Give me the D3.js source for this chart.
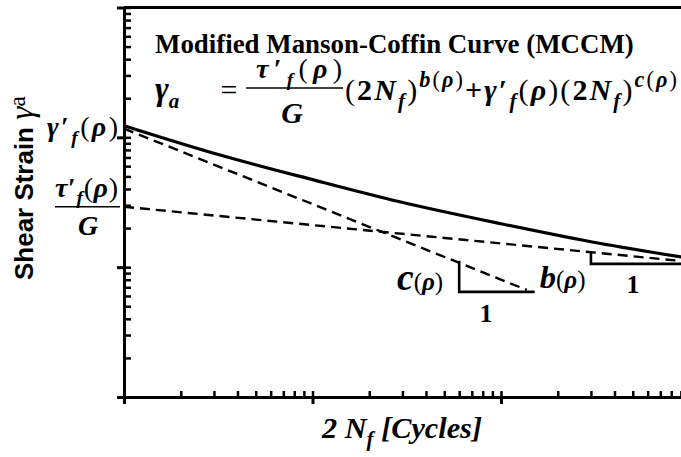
<!DOCTYPE html>
<html>
<head>
<meta charset="utf-8">
<script src="https://cdn.jsdelivr.net/npm/d3@7"></script>
<style>
  html, body { margin: 0; padding: 0; background: #fff; }
  svg { display: block; }
</style>
</head>
<body>
<svg id="chart" width="681" height="457"></svg>
<script>
// Log-log domains of the strain-life plot (decade ticks, no tick labels)
const cycleDomain = [1, 1000];
const strainDomain = [0.001, 1];

// Total strain-life curve, sampled points (2Nf, γa)
const totalCycles = [1, 3.2, 10, 29, 100, 300, 1000];
const totalStrain = [0.123, 0.0734, 0.0472, 0.0319, 0.0216, 0.0157, 0.0117];

// Elastic part τ'f/G·(2Nf)^b and plastic part γ'f·(2Nf)^c, end points
const elasticCycles = [1, 1000];
const elasticStrain = [0.0292, 0.0110];
const plasticCycles = [1, 137];
const plasticStrain = [0.1167, 0.00668];

// Slope triangles: [left cycles, right cycles, upper strain, lower strain]
const slopeC = [60, 151, 0.0112, 0.00645];
const slopeB = [300, 1000, 0.0131, 0.0106];

const SERIF = "'Liberation Serif', 'Times New Roman', 'DejaVu Serif', serif";
const SANS = "'Liberation Sans', Arial, sans-serif";

const svg = d3.select("#chart");
const x = d3.scaleLog().domain(cycleDomain).range([124, 689.5]);
const y = d3.scaleLog().domain(strainDomain).range([397, 7.5]);

const isDecade = v => Math.abs(Math.log10(v) - Math.round(Math.log10(v))) < 1e-9;

// ---- axes -------------------------------------------------------------
function styleAxis(g, w) {
  g.select(".domain").attr("stroke", "#000").attr("stroke-width", 3);
  g.selectAll(".tick line").attr("stroke", "#000").attr("stroke-width", w);
}

// inner ticks on every log step, outer ticks on decades
svg.append("g").attr("transform", `translate(${x(cycleDomain[0])},0)`)
  .call(d3.axisLeft(y).tickValues(y.ticks()).tickSize(-7).tickSizeOuter(0).tickFormat(""))
  .call(g => styleAxis(g, 2.5));
svg.append("g").attr("transform", `translate(${x(cycleDomain[0])},0)`)
  .call(d3.axisLeft(y).tickValues(y.ticks().filter(isDecade)).tickSize(7).tickSizeOuter(0).tickFormat(""))
  .call(g => { g.select(".domain").remove(); styleAxis(g, 3); });

svg.append("g").attr("transform", `translate(0,${y(strainDomain[0])})`)
  .call(d3.axisBottom(x).tickValues(x.ticks()).tickSize(-6).tickSizeOuter(0).tickFormat(""))
  .call(g => styleAxis(g, 2.5));
svg.append("g").attr("transform", `translate(0,${y(strainDomain[0])})`)
  .call(d3.axisBottom(x).tickValues(x.ticks().filter(isDecade)).tickSize(7).tickSizeOuter(0).tickFormat(""))
  .call(g => { g.select(".domain").remove(); styleAxis(g, 3); });

// top frame line
svg.append("line")
  .attr("x1", x(cycleDomain[0])).attr("x2", x(cycleDomain[1]))
  .attr("y1", y(strainDomain[1])).attr("y2", y(strainDomain[1]))
  .attr("stroke", "#000").attr("stroke-width", 3);

// ---- curves -----------------------------------------------------------
const line = d3.line().x(d => x(d[0])).y(d => y(d[1]));
const zip = (a, b) => a.map((v, i) => [v, b[i]]);

svg.append("path")
  .datum(zip(elasticCycles, elasticStrain))
  .attr("d", line).attr("fill", "none").attr("stroke", "#000")
  .attr("stroke-width", 2.4).attr("stroke-dasharray", "10,6");
svg.append("path")
  .datum(zip(plasticCycles, plasticStrain))
  .attr("d", line).attr("fill", "none").attr("stroke", "#000")
  .attr("stroke-width", 2.4).attr("stroke-dasharray", "10,6");
svg.append("path")
  .datum(zip(totalCycles, totalStrain))
  .attr("d", line.curve(d3.curveMonotoneX)).attr("fill", "none").attr("stroke", "#000")
  .attr("stroke-width", 3.2);

// slope triangles (vertical + horizontal leg)
function slopeLegs(s) {
  svg.append("path")
    .attr("d", `M${x(s[0])},${y(s[2])}V${y(s[3])}H${x(s[1])}`)
    .attr("fill", "none").attr("stroke", "#000").attr("stroke-width", 2.6);
}
slopeLegs(slopeC);
slopeLegs(slopeB);

// ---- math text helpers ------------------------------------------------
const SUB = { sz: 0.7, off: 0.27 };
const SUP = { sz: 0.74, off: -0.42 };
const bi = (t, o) => Object.assign({ t, b: 1, i: 1 }, o || {});
const rm = (t, o) => Object.assign({ t }, o || {});

function mathText(parent, segs, base, family) {
  const t = parent.append("text").attr("font-family", family || SERIF)
    .attr("font-size", base).attr("fill", "#000");
  let prev = 0;
  for (const s of segs) {
    const off = (s.off || 0) * base;
    t.append("tspan")
      .attr("dy", off - prev)
      .attr("dx", (s.dx || 0) * base)
      .attr("font-size", (s.sz || 1) * base)
      .attr("font-style", s.i ? "italic" : "normal")
      .attr("font-weight", s.b ? "bold" : "normal")
      .attr("font-family", s.fam || null)
      .text(s.t);
    prev = off;
  }
  return t;
}
function widthOf(t) { return t.node().getComputedTextLength(); }

// a run at a fixed size, spread to span [x0, x1]
function spanRun(segs, x0, x1, size, yb) {
  return mathText(svg, segs, size).attr("x", x0).attr("y", yb)
    .attr("textLength", x1 - x0).attr("lengthAdjust", "spacing");
}
// a run scaled in size so that it spans [x0, x1]
function fitRun(segs, x0, x1, base, yb) {
  const probe = mathText(svg, segs, base);
  const w = widthOf(probe);
  probe.remove();
  return mathText(svg, segs, base * (x1 - x0) / w).attr("x", x0).attr("y", yb);
}

// ---- title ------------------------------------------------------------
fitRun([rm("Modified Manson-Coffin Curve (MCCM)", { b: 1 })], 155, 634, 27, 53);

// ---- formula ----------------------------------------------------------
const fPrime = [bi("′", { i: 0 }), bi("f", SUB)];
const rho = [rm("(", { off: 0 }), bi("ρ"), rm(")")];
const numer = [bi("τ"), ...fPrime, ...rho];
const partB = [
  rm("("), bi("2", { i: 0 }), bi("N"), bi("f", SUB), rm(")", { off: 0 }),
  bi("b", SUP), rm("(", SUP), bi("ρ", SUP), rm(")", SUP),
  bi("+", { i: 0, off: 0 }), bi("γ"), ...fPrime, ...rho,
  rm("("), bi("2", { i: 0 }), bi("N"), bi("f", SUB), rm(")", { off: 0 }),
  bi("c", SUP), rm("(", SUP), bi("ρ", SUP), rm(")", SUP)
];

const FS = 30;
mathText(svg, [bi("γ", { sz: 1.1 }), bi("a", SUB)], FS).attr("x", 155).attr("y", 100);
mathText(svg, [rm("=")], FS).attr("text-anchor", "middle").attr("x", 229).attr("y", 100);
spanRun(numer, 256, 342, 28, 78);
svg.append("line").attr("x1", 246).attr("x2", 343).attr("y1", 88).attr("y2", 88)
  .attr("stroke", "#000").attr("stroke-width", 1.6);
mathText(svg, [bi("G")], FS).attr("text-anchor", "middle").attr("x", 292).attr("y", 123);
spanRun(partB, 345, 677, FS, 100);

// ---- axis-side labels -------------------------------------------------
const ax = x(cycleDomain[0]);
spanRun([bi("γ"), ...fPrime, ...rho], 47, 118, 28, 136);

const ey = y(elasticStrain[0]);
spanRun([bi("τ"), ...fPrime, ...rho], 55, 118, 28, ey - 10);
svg.append("line").attr("x1", 55).attr("x2", ax - 4).attr("y1", ey).attr("y2", ey)
  .attr("stroke", "#000").attr("stroke-width", 1.6);
mathText(svg, [bi("G")], 28).attr("text-anchor", "middle").attr("x", 88).attr("y", ey + 28);

// slope labels
const cyB = y(slopeC[3]);
mathText(svg, [bi("c", { sz: 1.5 }), rm("(", { off: 0 }), bi("ρ"), rm(")")], 25)
  .attr("text-anchor", "end").attr("x", x(slopeC[0]) - 16).attr("y", cyB - 2);
mathText(svg, [bi("b", { sz: 1.3 }), rm("(", { off: 0 }), bi("ρ"), rm(")")], 25)
  .attr("x", x(slopeC[1]) + 5).attr("y", cyB - 4);
mathText(svg, [rm("1", { b: 1 })], 26).attr("text-anchor", "middle")
  .attr("x", (x(slopeC[0]) + x(slopeC[1])) / 2 - 11).attr("y", cyB + 30);
mathText(svg, [rm("1", { b: 1 })], 26).attr("text-anchor", "middle")
  .attr("x", x(slopeB[0]) + 42).attr("y", y(slopeB[3]) + 29);

// ---- axis titles ------------------------------------------------------
fitRun([bi("2", { i: 1 }), bi(" N"), bi("f", SUB), bi(" [Cycles]", { off: 0 })], 322, 482, 27, 438);

// rotated y title: "Shear Strain" from y = 280 up to y = 127, then γa
const yl = svg.append("g").attr("transform", "translate(33,280) rotate(-90)");
const probe = mathText(yl, [rm("Shear Strain", { b: 1, fam: SANS })], 26);
const ys = 26 * 153 / widthOf(probe);
probe.remove();
mathText(yl, [
  rm("Shear Strain ", { b: 1, fam: SANS }),
  rm("γ", { i: 1, sz: 1.3 }),
  rm("a", { sz: 0.9, off: -0.3 })
], ys);
</script>
</body>
</html>
